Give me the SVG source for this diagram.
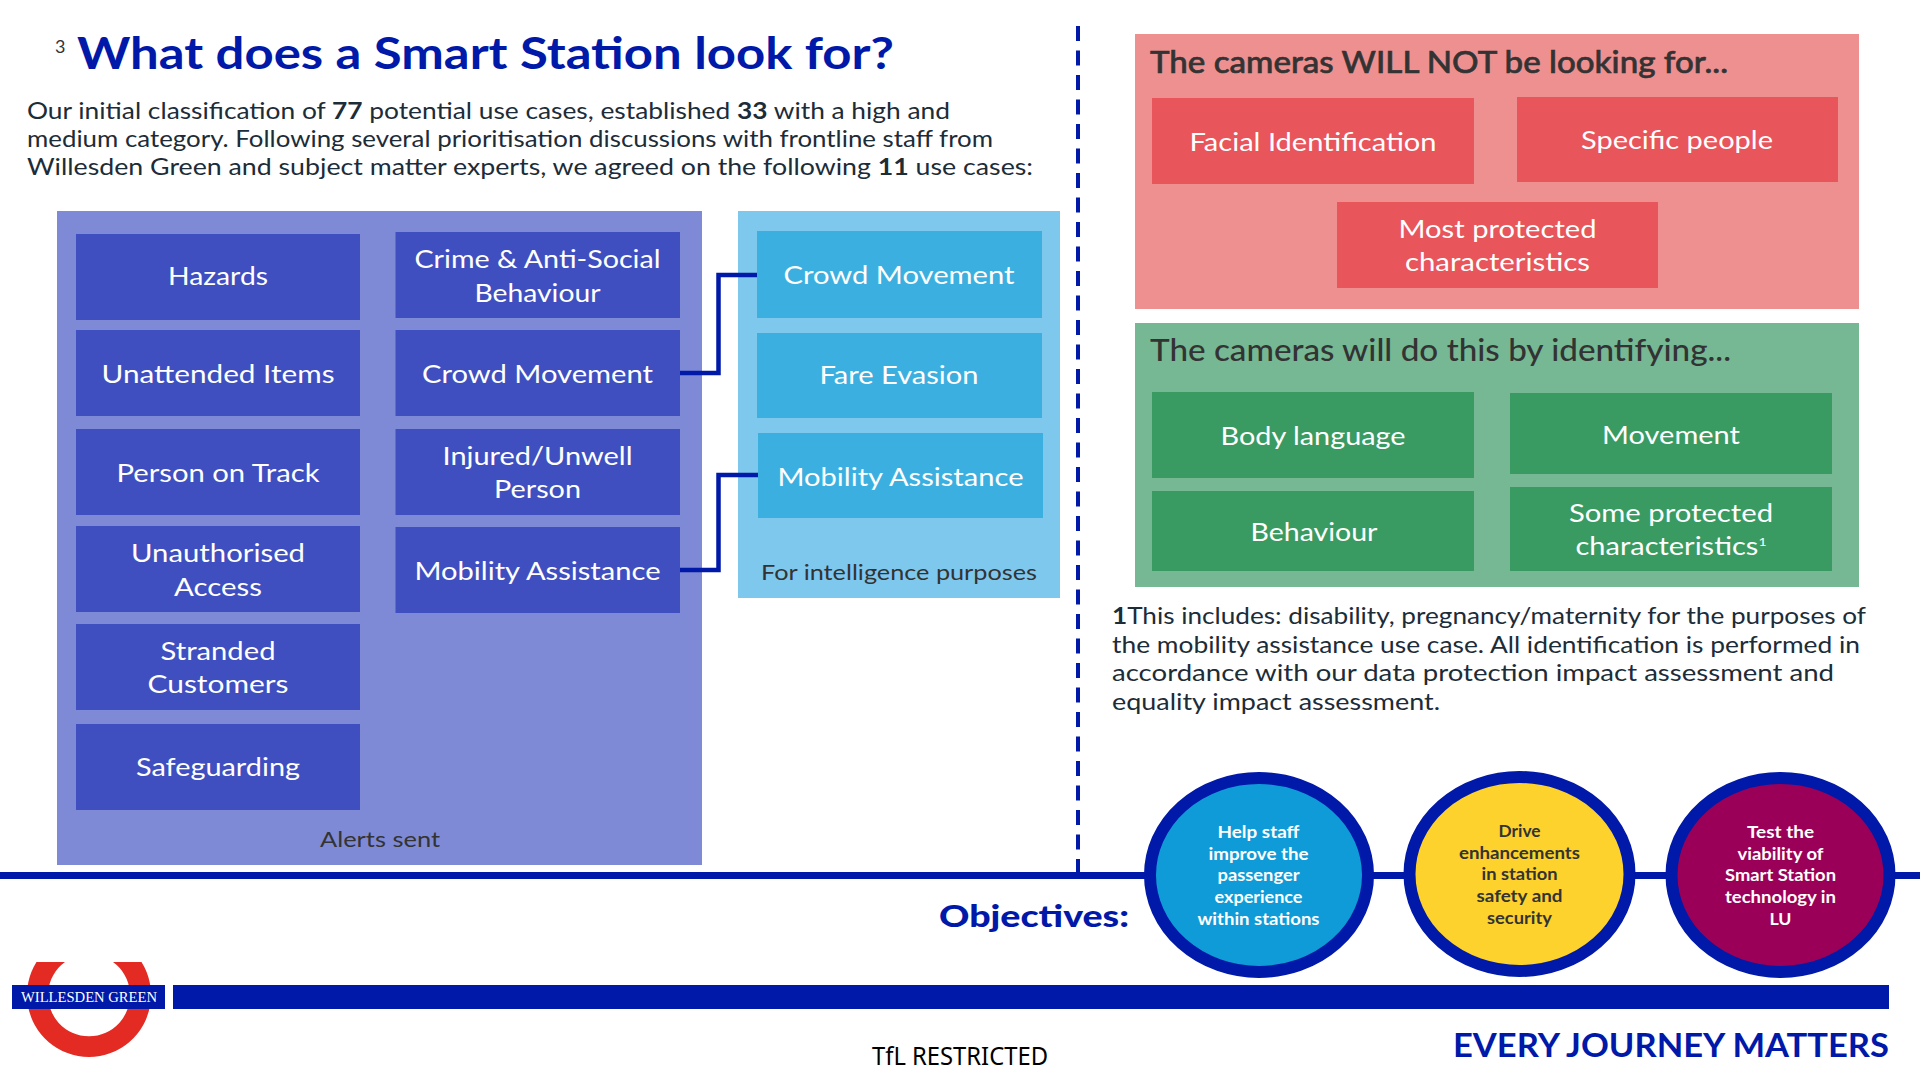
<svg xmlns="http://www.w3.org/2000/svg" width="1920" height="1080" viewBox="0 0 1920 1080">
<style>
text{font-family:"Lato","Noto Sans",sans-serif}
.b{font-size:25px;fill:#fff;text-anchor:middle}
.lab{font-size:21px;fill:#333;text-anchor:middle}
.body{font-size:23px;fill:#1c2c38}
.head{font-size:30px;fill:#333;font-weight:500}
.c{font-size:17px;font-weight:700;fill:#fff;text-anchor:middle}
.dk{fill:#333}
.pu{fill:#3f4fc0}.pb{fill:#3bb0e0}.pr{fill:#e8555b}.pg{fill:#3a9b62}
.conn{fill:none;stroke:#0019a8;stroke-width:4.5}
.ring{stroke:#0019a8;stroke-width:12}
</style>
<rect width="1920" height="1080" fill="#fff"/>
<g id="heading">
<text x="55" y="53" font-size="18" fill="#333">3</text>
<text x="77" y="69" font-size="44" font-weight="700" fill="#0019a8" textLength="817" lengthAdjust="spacingAndGlyphs">What does a Smart Station look for?</text>
<text class="body" x="27" y="119" textLength="923" lengthAdjust="spacingAndGlyphs">Our initial classification of <tspan font-weight="700">77</tspan> potential use cases, established <tspan font-weight="700">33</tspan> with a high and</text>
<text class="body" x="27" y="147" textLength="966" lengthAdjust="spacingAndGlyphs">medium category. Following several prioritisation discussions with frontline staff from</text>
<text class="body" x="27" y="175" textLength="1006" lengthAdjust="spacingAndGlyphs">Willesden Green and subject matter experts, we agreed on the following <tspan font-weight="700">11</tspan> use cases:</text>
</g>
<g id="alerts-panel">
<rect x="57" y="211" width="645" height="654" fill="#7f8ad6"/>
<text class="lab" x="380" y="847" textLength="120" lengthAdjust="spacingAndGlyphs">Alerts sent</text>
</g>
<g id="intelligence-panel">
<rect x="738" y="211" width="322" height="387" fill="#7ec8ee"/>
<text class="lab" x="899" y="580" textLength="276" lengthAdjust="spacingAndGlyphs">For intelligence purposes</text>
</g>
<g id="connectors">
<path class="conn" d="M679 373H718.5V275H758"/>
<path class="conn" d="M679 570H718.5V475H758"/>
<path fill="none" stroke="#0019a8" stroke-width="4" stroke-dasharray="15 9.5" d="M1078 26V872"/>
<path fill="none" stroke="#0019a8" stroke-width="7" d="M0 875.5H1920"/>
</g>
<g id="hazards"><rect class="pu" x="76" y="234" width="284" height="86"/><text class="b" x="218" y="285" textLength="100" lengthAdjust="spacingAndGlyphs">Hazards</text></g>
<g id="unattended-items"><rect class="pu" x="76" y="330" width="284" height="86"/><text class="b" x="218" y="383" textLength="233" lengthAdjust="spacingAndGlyphs">Unattended Items</text></g>
<g id="person-on-track"><rect class="pu" x="76" y="429" width="284" height="86"/><text class="b" x="218" y="482" textLength="203" lengthAdjust="spacingAndGlyphs">Person on Track</text></g>
<g id="unauthorised-access"><rect class="pu" x="76" y="526" width="284" height="86"/><text class="b" x="218" y="562" textLength="174" lengthAdjust="spacingAndGlyphs">Unauthorised</text><text class="b" x="218" y="596" textLength="88" lengthAdjust="spacingAndGlyphs">Access</text></g>
<g id="stranded-customers"><rect class="pu" x="76" y="624" width="284" height="86"/><text class="b" x="218" y="660" textLength="115" lengthAdjust="spacingAndGlyphs">Stranded</text><text class="b" x="218" y="693" textLength="141" lengthAdjust="spacingAndGlyphs">Customers</text></g>
<g id="safeguarding"><rect class="pu" x="76" y="724" width="284" height="86"/><text class="b" x="218" y="776" textLength="164" lengthAdjust="spacingAndGlyphs">Safeguarding</text></g>
<g id="crime"><rect class="pu" x="395.500" y="232" width="284.500" height="86"/><text class="b" x="537.5" y="268" textLength="246" lengthAdjust="spacingAndGlyphs">Crime &amp; Anti-Social</text><text class="b" x="537.5" y="302" textLength="126" lengthAdjust="spacingAndGlyphs">Behaviour</text></g>
<g id="crowd-movement"><rect class="pu" x="395.500" y="330" width="284.500" height="86"/><text class="b" x="537.5" y="383" textLength="231" lengthAdjust="spacingAndGlyphs">Crowd Movement</text></g>
<g id="injured-unwell"><rect class="pu" x="395.500" y="429" width="284.500" height="86"/><text class="b" x="537.5" y="465" textLength="190" lengthAdjust="spacingAndGlyphs">Injured/Unwell</text><text class="b" x="537.5" y="498" textLength="87" lengthAdjust="spacingAndGlyphs">Person</text></g>
<g id="mobility-assistance"><rect class="pu" x="395.500" y="527" width="284.500" height="86"/><text class="b" x="537.5" y="580" textLength="246" lengthAdjust="spacingAndGlyphs">Mobility Assistance</text></g>
<g id="intel-crowd"><rect class="pb" x="757" y="231" width="285" height="87"/><text class="b" x="899" y="284" textLength="231" lengthAdjust="spacingAndGlyphs">Crowd Movement</text></g>
<g id="intel-fare"><rect class="pb" x="757" y="333" width="285" height="85"/><text class="b" x="899" y="384" textLength="159" lengthAdjust="spacingAndGlyphs">Fare Evasion</text></g>
<g id="intel-mobility"><rect class="pb" x="758" y="433" width="285" height="85"/><text class="b" x="900.5" y="486" textLength="246" lengthAdjust="spacingAndGlyphs">Mobility Assistance</text></g>
<g id="will-not-panel">
<rect x="1135" y="34" width="724" height="275" fill="#ee9090"/>
<text class="head" x="1150" y="73" textLength="578" lengthAdjust="spacingAndGlyphs" stroke="#333" stroke-width="0.6">The cameras WILL NOT be looking for...</text>
</g>
<g id="facial"><rect class="pr" x="1152" y="98" width="322" height="86"/><text class="b" x="1313" y="151" textLength="247" lengthAdjust="spacingAndGlyphs">Facial Identification</text></g>
<g id="specific"><rect class="pr" x="1517" y="97" width="321" height="85"/><text class="b" x="1677" y="149" textLength="192" lengthAdjust="spacingAndGlyphs">Specific people</text></g>
<g id="most-protected"><rect class="pr" x="1337" y="202" width="321" height="86"/><text class="b" x="1497.5" y="238" textLength="198" lengthAdjust="spacingAndGlyphs">Most protected</text><text class="b" x="1497.5" y="271" textLength="185" lengthAdjust="spacingAndGlyphs">characteristics</text></g>
<g id="identify-panel">
<rect x="1135" y="323" width="724" height="264" fill="#76b894"/>
<text class="head" x="1150" y="361" textLength="581" lengthAdjust="spacingAndGlyphs">The cameras will do this by identifying...</text>
</g>
<g id="body-language"><rect class="pg" x="1152" y="392" width="322" height="86"/><text class="b" x="1313" y="445" textLength="185" lengthAdjust="spacingAndGlyphs">Body language</text></g>
<g id="movement"><rect class="pg" x="1510" y="393" width="322" height="81"/><text class="b" x="1671" y="444" textLength="138" lengthAdjust="spacingAndGlyphs">Movement</text></g>
<g id="behaviour"><rect class="pg" x="1152" y="491" width="322" height="80"/><text class="b" x="1314" y="541" textLength="127" lengthAdjust="spacingAndGlyphs">Behaviour</text></g>
<g id="some-protected"><rect class="pg" x="1510" y="487" width="322" height="84"/><text class="b" x="1671" y="522" textLength="204" lengthAdjust="spacingAndGlyphs">Some protected</text><text class="b" x="1671" y="555" textLength="191" lengthAdjust="spacingAndGlyphs">characteristics<tspan font-size="12" dy="-9">1</tspan></text></g>
<g id="footnote">
<text class="body" x="1112" y="624" textLength="754" lengthAdjust="spacingAndGlyphs"><tspan font-weight="700">1</tspan>This includes: disability, pregnancy/maternity for the purposes of</text>
<text class="body" x="1112" y="653" textLength="748" lengthAdjust="spacingAndGlyphs">the mobility assistance use case. All identification is performed in</text>
<text class="body" x="1112" y="681" textLength="722" lengthAdjust="spacingAndGlyphs">accordance with our data protection impact assessment and</text>
<text class="body" x="1112" y="710" textLength="328" lengthAdjust="spacingAndGlyphs">equality impact assessment.</text>
</g>
<g id="objectives-label"><text x="939" y="927" font-size="31" font-weight="900" fill="#0019a8" textLength="190" lengthAdjust="spacingAndGlyphs">Objectives:</text></g>
<g id="objective-staff"><ellipse class="ring" cx="1259" cy="875" rx="109" ry="97" fill="#0f9bd7"/>
<text class="c" x="1258.5" y="838" textLength="82" lengthAdjust="spacingAndGlyphs">Help staff</text><text class="c" x="1258.5" y="860" textLength="100" lengthAdjust="spacingAndGlyphs">improve the</text><text class="c" x="1258.5" y="881" textLength="82" lengthAdjust="spacingAndGlyphs">passenger</text><text class="c" x="1258.5" y="903" textLength="88" lengthAdjust="spacingAndGlyphs">experience</text><text class="c" x="1258.5" y="925" textLength="122" lengthAdjust="spacingAndGlyphs">within stations</text></g>
<g id="objective-drive"><ellipse class="ring" cx="1519.5" cy="874" rx="110" ry="97" fill="#fdd22c"/>
<text class="c dk" x="1519.5" y="837" textLength="42" lengthAdjust="spacingAndGlyphs">Drive</text><text class="c dk" x="1519.5" y="859" textLength="121" lengthAdjust="spacingAndGlyphs">enhancements</text><text class="c dk" x="1519.5" y="880" textLength="76" lengthAdjust="spacingAndGlyphs">in station</text><text class="c dk" x="1519.5" y="902" textLength="86" lengthAdjust="spacingAndGlyphs">safety and</text><text class="c dk" x="1519.5" y="924" textLength="65" lengthAdjust="spacingAndGlyphs">security</text></g>
<g id="objective-test"><ellipse class="ring" cx="1780.5" cy="875" rx="109" ry="97" fill="#9b0058"/>
<text class="c" x="1780.5" y="838" textLength="67" lengthAdjust="spacingAndGlyphs">Test the</text><text class="c" x="1780.5" y="860" textLength="86" lengthAdjust="spacingAndGlyphs">viability of</text><text class="c" x="1780.5" y="881" textLength="111" lengthAdjust="spacingAndGlyphs">Smart Station</text><text class="c" x="1780.5" y="903" textLength="111" lengthAdjust="spacingAndGlyphs">technology in</text><text class="c" x="1780.5" y="925" textLength="22" lengthAdjust="spacingAndGlyphs">LU</text></g>
<g id="roundel">
<path fill="#e32b24" fill-rule="evenodd" d="M36.500 962A62 62 0 1 0 141.500 962H113A41 41 0 1 1 65 962Z"/>
<rect x="12" y="985" width="153" height="24" fill="#0019a8"/>
<text x="21" y="1002" font-size="15" fill="#fff" style="font-family:'Liberation Serif',serif" textLength="136" lengthAdjust="spacingAndGlyphs">WILLESDEN GREEN</text>
</g>
<g id="footer">
<rect x="173" y="985" width="1716" height="24" fill="#0019a8"/>
<text x="872" y="1065" font-size="25" fill="#000" style="font-family:'Noto Sans',sans-serif" textLength="176" lengthAdjust="spacingAndGlyphs">TfL RESTRICTED</text>
<text x="1453" y="1057" font-size="33" font-weight="700" fill="#0019a8" textLength="436" lengthAdjust="spacingAndGlyphs">EVERY JOURNEY MATTERS</text>
</g>
</svg>
